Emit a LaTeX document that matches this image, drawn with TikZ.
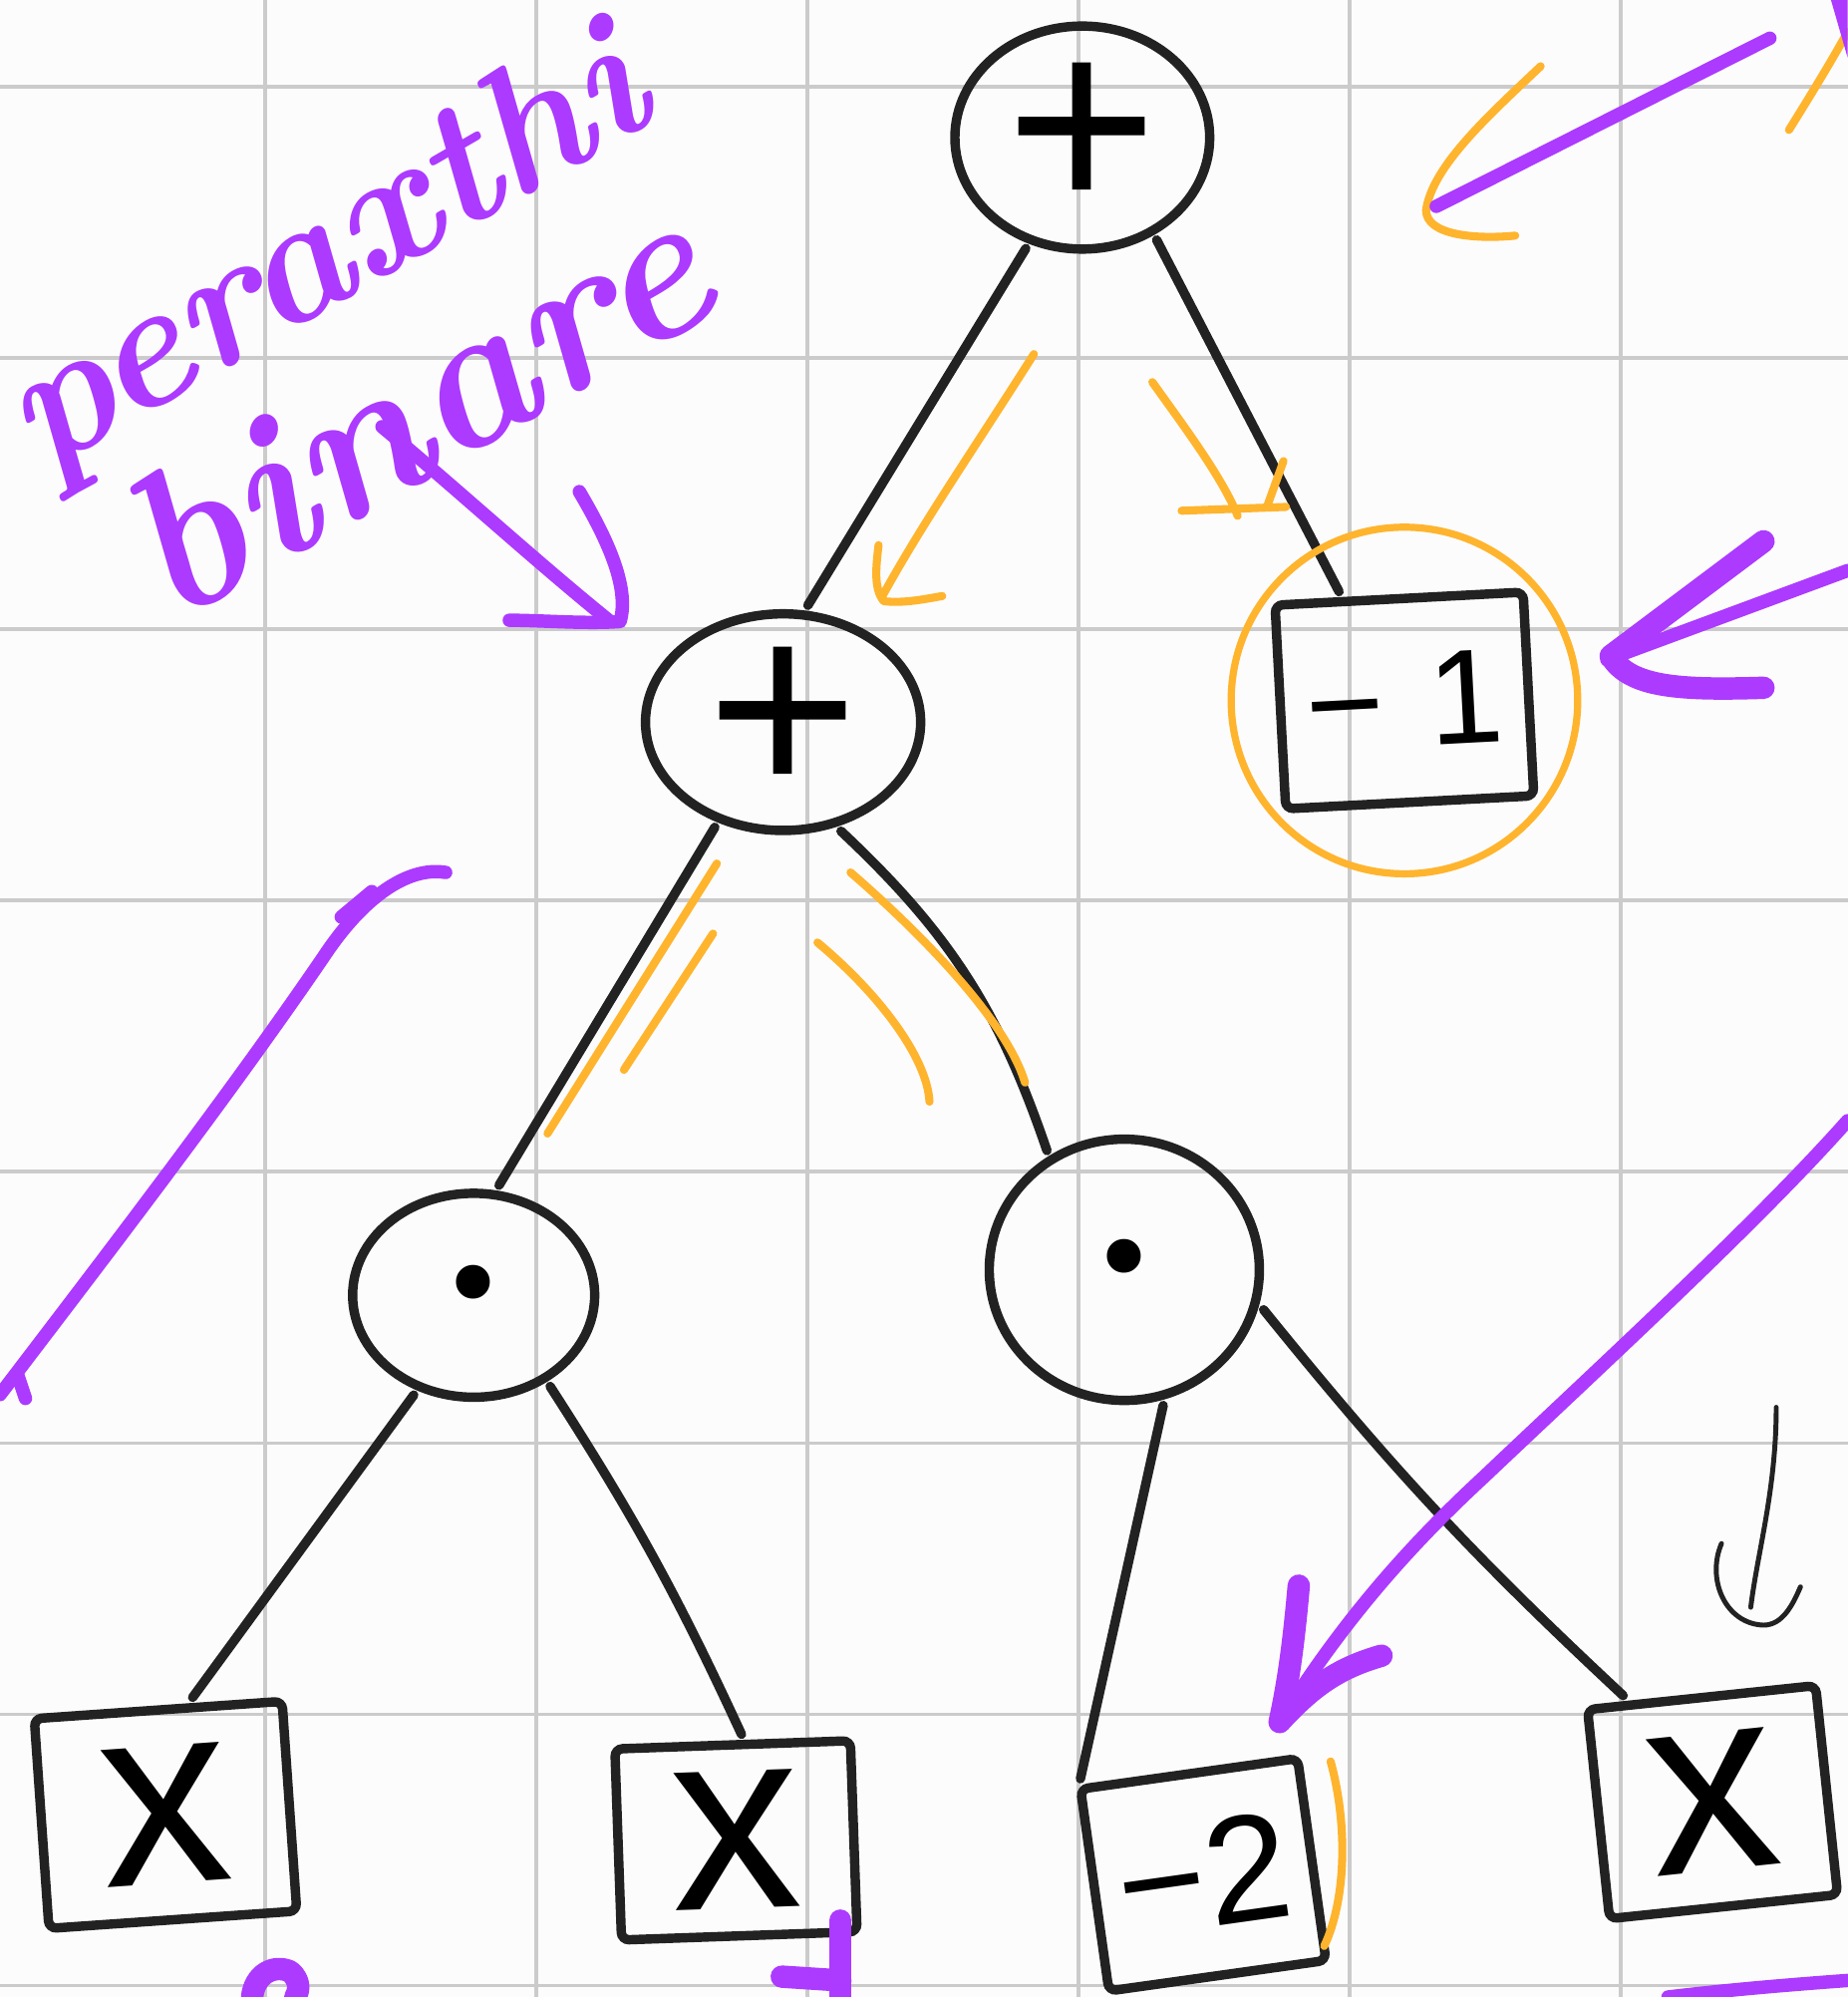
\documentclass[tikz,border=0pt]{standalone}
\usepackage{fontspec}
\usetikzlibrary{shapes.geometric}
\setmainfont{Latin Modern Roman}
\newfontfamily\nodefont{Liberation Sans}
\newfontfamily\dotfont{DejaVu Sans}
\definecolor{ink}{HTML}{222222}
\definecolor{gridgray}{HTML}{CBCBCB}
\definecolor{paper}{HTML}{FCFCFC}
\definecolor{hlorange}{HTML}{FFB42E}
\definecolor{hlpurple}{HTML}{AC3AFF}
\tikzset{
  opnode/.style={ellipse, draw=ink, line width=2.1pt, inner sep=0pt, outer sep=0.08cm},
  leafbox/.style={rectangle, draw=ink, line width=2.1pt, rounded corners=0.06cm, inner sep=0pt, outer sep=0.08cm,
    font=\nodefont\fontsize{58}{58}\selectfont},
  plusfont/.style={font=\nodefont\fontsize{58}{58}\selectfont},
  dotsfont/.style={font=\dotfont\fontsize{26}{26}\selectfont},
  treeedge/.style={draw=ink, line width=2.1pt, line cap=round},
  ringmark/.style={circle, draw=hlorange, line width=1.6pt, inner sep=0pt},
  orangemark/.style={draw=hlorange, line width=1.8pt, line cap=round, line join=round},
  purplemark/.style={draw=hlpurple, line width=3pt, line cap=round, line join=round},
  purplethick/.style={draw=hlpurple, line width=5pt, line cap=round, line join=round},
  purpletext/.style={text=hlpurple, inner sep=0pt, align=center, font=\fontsize{40}{44}\selectfont\bfseries\itshape},
  gridline/.style={draw=gridgray, line width=0.8pt},
  smallarrow/.style={draw=ink, line width=1.1pt, line cap=round, line join=round}
}
\begin{document}
\begin{tikzpicture}[x=0.01cm, y=-0.01cm]
\useasboundingbox (0,0) rectangle (1451,1568);
\fill[paper] (0,0) rectangle (1451,1568);
% grid
\foreach \gx in {208,421,634,847,1060,1273} {\draw[gridline] (\gx,0) -- (\gx,1568);}
\foreach \gy in {68,281,494,707,920,1133,1346,1559} {\draw[gridline] (0,\gy) -- (1451,\gy);}

% nodes
\node[opnode, plusfont, minimum width=2.0cm, minimum height=1.75cm] (root) at (850,108) {+};
\node[opnode, plusfont, minimum width=2.16cm, minimum height=1.7cm] (lplus) at (615,567) {+};
\node[leafbox, rotate=3, minimum width=1.95cm, minimum height=1.6cm, font=\nodefont\fontsize{30}{30}\selectfont] (m1) at (1103,550) {−\hspace{0.35cm}1};
\node[opnode, dotsfont, minimum width=1.9cm, minimum height=1.6cm] (dotL) at (372,1017) {•};
\node[opnode, dotsfont, minimum width=2.12cm, minimum height=2.05cm] (dotR) at (883,997) {•};
\node[leafbox, rotate=4, minimum width=1.95cm, minimum height=1.65cm] (x1) at (130,1425) {x};
\node[leafbox, rotate=2, minimum width=1.85cm, minimum height=1.5cm] (x2) at (578,1445) {x};
\node[leafbox, rotate=8, minimum width=1.72cm, minimum height=1.6cm, font=\nodefont\fontsize{34}{34}\selectfont] (m2) at (945,1472) {−2};
\node[leafbox, rotate=6, minimum width=1.8cm, minimum height=1.65cm] (x4) at (1345,1415) {x};

% tree edges
\draw[treeedge] (root.243) -- (lplus.78);
\draw[treeedge] (root.306) -- (m1.118);
\draw[treeedge] (lplus.237) -- (dotL.77);
\draw[treeedge] (lplus.298) to[bend left=14] (dotR.123);
\draw[treeedge] (dotL.239) -- (x1.73);
\draw[treeedge] (dotL.310) to[bend left=4] (x2.85);
\draw[treeedge] (dotR.286) -- (m2.134);
\draw[treeedge] (dotR.344) to[bend right=4] (x4.124);

% small black arrow above x4
\coordinate (sa1) at (1395,1105);
\coordinate (sa2) at (1375,1262);
\draw[smallarrow] (sa1) .. controls (1395,1170) and (1380,1220) .. (sa2);
\draw[smallarrow] (1352,1212) .. controls (1340,1240) and (1355,1275) .. (1385,1276) .. controls (1400,1276) and (1408,1260) .. (1414,1246);

% orange annotations
\node[ringmark, minimum size=2.72cm] (ring) at (m1.center) {};
\draw[orangemark] (812,278) .. controls (760,360) and (725,410) .. (693,468);
\draw[orangemark] (690,428) .. controls (688,445) and (686,462) .. (694,472) .. controls (710,474) and (728,470) .. (740,468);
\draw[orangemark] (905,300) .. controls (930,335) and (960,375) .. (972,405);
\draw[orangemark] (928,401) -- (1010,398);
\draw[orangemark] (1008,362) -- (995,398);
\draw[orangemark] (563,678) -- (430,890);
\draw[orangemark] (560,733) -- (490,840);
\draw[orangemark] (642,740) .. controls (690,780) and (728,830) .. (730,865);
\draw[orangemark] (668,685) .. controls (720,730) and (790,800) .. (805,850);
\draw[orangemark] (1045,1383) .. controls (1058,1430) and (1058,1490) .. (1040,1528);
\draw[orangemark] (1210,52) .. controls (1170,90) and (1125,130) .. (1120,165) .. controls (1120,185) and (1160,188) .. (1190,185);
\draw[orangemark] (1405,102) .. controls (1425,70) and (1440,45) .. (1451,25);

% purple annotations
\node[purpletext, rotate=30] (title) at (290,258)
  {peraxthi\\{\fontsize{46}{44}\selectfont binare}};
\coordinate (pa1) at (300,335);
\coordinate (pa2) at (478,487);
\draw[purplemark] (pa1) .. controls (360,385) and (420,440) .. (pa2);
\draw[purplemark] (455,386) .. controls (475,420) and (495,460) .. (487,488) .. controls (460,490) and (425,487) .. (400,487);
\draw[purplemark] (350,685) .. controls (320,680) and (285,705) .. (255,750) .. controls (180,860) and (80,990) .. (0,1095);
\draw[purplemark] (268,720) -- (292,700);
\draw[purplemark] (14,1080) -- (20,1098);
\coordinate (pb1) at (1390,30);
\coordinate (pb2) at (1128,162);
\draw[purplemark] (pb1) -- (pb2);
\fill[hlpurple] (1438,0) -- (1451,0) -- (1451,45) -- cycle;
\coordinate (pc1) at (1451,448);
\coordinate (pc2) at (1262,518);
\draw[purplemark] (pc1) -- (pc2);
\draw[purplethick] (1385,425) -- (1265,515) .. controls (1280,540) and (1320,542) .. (1385,540);
\coordinate (pd1) at (1451,880);
\coordinate (pd2) at (1005,1352);
\draw[purplemark] (pd1) .. controls (1380,960) and (1260,1070) .. (1165,1160) .. controls (1100,1220) and (1050,1280) .. (pd2);
\draw[purplethick] (1020,1245) .. controls (1016,1290) and (1012,1320) .. (1005,1352);
\draw[purplethick] (1085,1300) .. controls (1050,1310) and (1030,1325) .. (1005,1352);
\draw[purplethick] (198,1568) .. controls (200,1550) and (215,1542) .. (228,1548) .. controls (236,1555) and (235,1563) .. (232,1568);
\draw[purplethick] (660,1508) -- (660,1568);
\draw[purplethick] (614,1552) -- (660,1555);
\draw[purplemark] (1310,1568) .. controls (1360,1562) and (1410,1558) .. (1451,1555);
\end{tikzpicture}
\end{document}
